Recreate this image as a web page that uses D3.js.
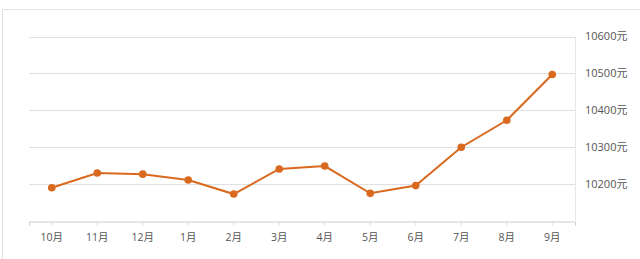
<!DOCTYPE html>
<html>
<head>
<meta charset="utf-8">
<script src="https://cdn.jsdelivr.net/npm/d3@7"></script>
<style>
  body { margin: 0; background: #fff; }
  text { font-family: "Open Sans", "Noto Sans CJK SC", sans-serif; }
</style>
</head>
<body>
<div id="chart"></div>
<script>
var months = ["10月", "11月", "12月", "1月", "2月", "3月", "4月", "5月", "6月", "7月", "8月", "9月"];
var prices = [10190, 10230, 10227, 10211, 10173, 10241, 10249, 10175, 10196, 10300, 10373, 10497];
var yTicks = [10200, 10300, 10400, 10500, 10600];

var width = 640,
    height = 259;

var svg = d3.select("#chart")
    .append("svg")
    .attr("width", width)
    .attr("height", height);

// outer panel
svg.append("rect")
    .attr("x", 2.5)
    .attr("y", 9.5)
    .attr("width", 660)
    .attr("height", 300)
    .attr("fill", "none")
    .attr("stroke", "#e2e2e2");

var plotLeft = 29, plotRight = 575, plotTop = 36.5, plotBottom = 221;

var x = d3.scaleBand()
    .domain(months)
    .range([plotLeft, plotRight]);

var y = d3.scaleLinear()
    .domain([10100, 10600])
    .range([plotBottom, plotTop]);

// grid lines
svg.append("g")
  .selectAll("line")
  .data(yTicks)
  .enter().append("line")
    .attr("x1", plotLeft)
    .attr("x2", plotRight)
    .attr("y1", function(d) { return Math.round(y(d)) + 0.5; })
    .attr("y2", function(d) { return Math.round(y(d)) + 0.5; })
    .attr("stroke", "#e0e0e0");

// right border of plot
svg.append("line")
    .attr("x1", plotRight + 0.5)
    .attr("x2", plotRight + 0.5)
    .attr("y1", plotTop)
    .attr("y2", plotBottom)
    .attr("stroke", "#e8e8e8");

// right axis labels
svg.append("g")
  .selectAll("text")
  .data(yTicks)
  .enter().append("text")
    .attr("x", 585)
    .attr("y", function(d) { return y(d); })
    .attr("dy", ".35em")
    .attr("font-size", 11)
    .attr("fill", "#555")
    .text(function(d) { return d + "元"; });

// bottom axis
var xAxis = svg.append("g")
    .attr("transform", "translate(0," + (Math.round(plotBottom) + 0.5) + ")")
    .call(d3.axisBottom(x).tickSize(4).tickPadding(8));

xAxis.select(".domain").attr("stroke", "#ccc");
xAxis.selectAll(".tick line").attr("stroke", "#ddd");
xAxis.selectAll(".tick text")
    .attr("font-size", 10.5)
    .attr("fill", "#555")
    .style("font-family", "'Open Sans', 'Noto Sans CJK SC', sans-serif");

var cx = function(d, i) { return x(months[i]) + x.bandwidth() / 2; };

var line = d3.line()
    .x(cx)
    .y(function(d) { return y(d); });

svg.append("path")
    .datum(prices)
    .attr("d", line)
    .attr("fill", "none")
    .attr("stroke", "#d9691f")
    .attr("stroke-width", 2);

svg.append("g")
  .selectAll("circle")
  .data(prices)
  .enter().append("circle")
    .attr("cx", cx)
    .attr("cy", function(d) { return y(d); })
    .attr("r", 3.8)
    .attr("fill", "#d9691f");
</script>
</body>
</html>
